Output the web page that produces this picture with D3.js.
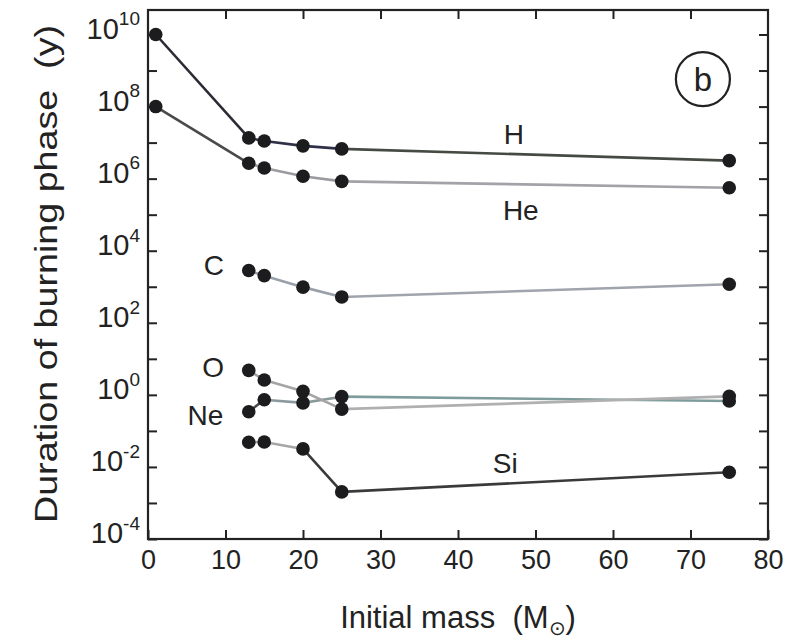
<!DOCTYPE html>
<html>
<head>
<meta charset="utf-8">
<script src="https://cdn.jsdelivr.net/npm/d3@7"></script>
<style>
  body { margin: 0; background: #fff; }
  svg text { font-family: "Liberation Sans", Arial, Helvetica, sans-serif; fill: #222; }
</style>
</head>
<body>
<div id="chart"></div>
<script>
"use strict";

// initial masses (solar masses)
const sunMass = [1];
const massiveMasses = [13, 15, 20, 25, 75];

// burning phase durations (years)
const hDuration = [1e10, 1.35e7, 1.11e7, 8.13e6, 6.70e6, 3.16e6];
const heDuration = [1e8, 2.67e6, 1.97e6, 1.17e6, 8.39e5, 5.61e5];
const cDuration = [2820, 2030, 976, 522, 1170];
const neDuration = [0.341, 0.732, 0.599, 0.891, 0.678];
const oDuration = [4.77, 2.58, 1.25, 0.402, 0.908];
const siDuration = [0.0483, 0.0493, 0.0316, 0.00203, 0.00710];

const xTicks = [0, 10, 20, 30, 40, 50, 60, 70, 80];
const yExponents = [-4, -3, -2, -1, 0, 1, 2, 3, 4, 5, 6, 7, 8, 9, 10];

let series = [
  { name: 'H', masses: sunMass.concat(massiveMasses), values: hDuration },
  { name: 'He', masses: sunMass.concat(massiveMasses), values: heDuration },
  { name: 'C', masses: massiveMasses, values: cDuration },
  { name: 'Ne', masses: massiveMasses, values: neDuration },
  { name: 'O', masses: massiveMasses, values: oDuration },
  { name: 'Si', masses: massiveMasses, values: siDuration }
];

// segment colours, one per segment
let segColors = {
  H: ['#2b2b35', '#2e3148', '#2e3148', '#2e3148', '#454b42'],
  He: ['#4a4a4a', '#9a9aa0', '#9a9aa0', '#9a9aa0', '#a2a2a8'],
  C: ['#9aa0aa', '#9aa0aa', '#9aa0aa', '#a0a4ac'],
  Ne: ['#4a4a4a', '#8a9aa0', '#8a9a9a', '#7f9c9c'],
  O: ['#a4a4a4', '#a4a4a4', '#a4a4a4', '#b0b0b0'],
  Si: ['#a6a6a6', '#a6a6a6', '#3a3a3a', '#3a3a3a']
};

// label anchors in data space
let labelPos = {
  H: [47.2, 1.7e7], He: [48.1, 1.3e5], C: [8.5, 3.9e3],
  O: [8.4, 5.8], Ne: [7.4, 0.28], Si: [46.1, 0.013]
};

let margin = { top: 10, right: 28, bottom: 101, left: 148 };
let width = 796 - margin.left - margin.right;
let height = 640 - margin.top - margin.bottom;

let translateStr = (x, y) => 'translate(' + x + ', ' + y + ')';

let x = d3.scaleLinear().domain([0, 80]).range([0, width]);
let y = d3.scaleLog().domain([1e-4, Math.pow(10, 10.68)]).range([height, 0]);

let root = d3.select('#chart')
  .append('svg')
  .attr('width', 796)
  .attr('height', 640);

let svg = root.append('g')
  .attr('transform', translateStr(margin.left, margin.top));

let yTickVals = yExponents.map(e => Math.pow(10, e));

// axes with inward ticks
let bottom = svg.append('g')
  .attr('transform', translateStr(0, height))
  .call(d3.axisBottom(x).tickValues(xTicks).tickSizeInner(-9).tickSizeOuter(0).tickPadding(11));
bottom.selectAll('text').style('font-size', '27px');

svg.append('g')
  .call(d3.axisTop(x).tickValues(xTicks.slice(1, -1)).tickSizeInner(-9).tickSizeOuter(0).tickFormat(''));

let left = svg.append('g')
  .call(d3.axisLeft(y).tickValues(yTickVals).tickSizeInner(-9).tickSizeOuter(0).tickPadding(8).tickFormat(''));

left.selectAll('.tick')
  .filter(d => Math.round(Math.log10(d)) % 2 === 0)
  .select('text')
  .attr('dy', '0.36em')
  .each(function(d) {
    let t = d3.select(this);
    t.append('tspan').style('font-size', '29px').text('10');
    t.append('tspan').style('font-size', '19px').attr('dy', '-0.7em').text(Math.round(Math.log10(d)));
  });

svg.append('g')
  .attr('transform', translateStr(width, 0))
  .call(d3.axisRight(y).tickValues(yTickVals).tickSizeInner(-9).tickSizeOuter(0).tickFormat(''));

svg.selectAll('.domain').remove();
svg.selectAll('.tick line').attr('stroke', '#222').attr('stroke-width', 2);

svg.append('rect')
  .attr('width', width)
  .attr('height', height)
  .attr('fill', 'none')
  .attr('stroke', '#222')
  .attr('stroke-width', 2.2);

// lines, drawn segment by segment
series.forEach(s => {
  let pts = s.masses.map((m, i) => ({ x: m, y: s.values[i] }));
  let segs = d3.pairs(pts);
  svg.append('g')
    .selectAll('line')
    .data(segs)
    .join('line')
    .attr('x1', d => x(d[0].x))
    .attr('y1', d => y(d[0].y))
    .attr('x2', d => x(d[1].x))
    .attr('y2', d => y(d[1].y))
    .attr('stroke', (d, i) => segColors[s.name][i])
    .attr('stroke-width', 2.6);
});

// points on top
series.forEach(s => {
  svg.append('g')
    .selectAll('circle')
    .data(s.masses.map((m, i) => ({ x: m, y: s.values[i] })))
    .join('circle')
    .attr('cx', d => x(d.x))
    .attr('cy', d => y(d.y))
    .attr('r', 6.8)
    .attr('fill', '#1c1c1e');
});

// series labels
series.forEach(s => {
  svg.append('text')
    .attr('x', x(labelPos[s.name][0]))
    .attr('y', y(labelPos[s.name][1]))
    .attr('text-anchor', 'middle')
    .attr('dy', '0.35em')
    .style('font-size', '28px')
    .text(s.name);
});

// panel badge
svg.append('circle')
  .attr('cx', x(71.6))
  .attr('cy', y(Math.pow(10, 8.76)))
  .attr('r', 27)
  .attr('fill', 'none')
  .attr('stroke', '#222')
  .attr('stroke-width', 2.2);

svg.append('text')
  .attr('x', x(71.6))
  .attr('y', y(Math.pow(10, 8.76)))
  .attr('text-anchor', 'middle')
  .attr('dy', '0.36em')
  .style('font-size', '33px')
  .text('b');

// axis titles
root.append('text')
  .attr('transform', translateStr(46, 274) + ' rotate(-90)')
  .attr('text-anchor', 'middle')
  .attr('dy', '0.35em')
  .attr('textLength', 498)
  .attr('lengthAdjust', 'spacingAndGlyphs')
  .style('font-size', '32px')
  .text('Duration of burning phase\u00a0\u00a0(y)');

let xt = root.append('text')
  .attr('x', margin.left + width / 2)
  .attr('y', 628)
  .attr('text-anchor', 'middle')
  .style('font-size', '31px');
xt.append('tspan').text('Initial mass\u00a0\u00a0(M');
xt.append('tspan').style('font-size', '20px').attr('dy', '7').text('\u2299');
xt.append('tspan').attr('dy', '-7').text(')');
</script>
</body>
</html>
